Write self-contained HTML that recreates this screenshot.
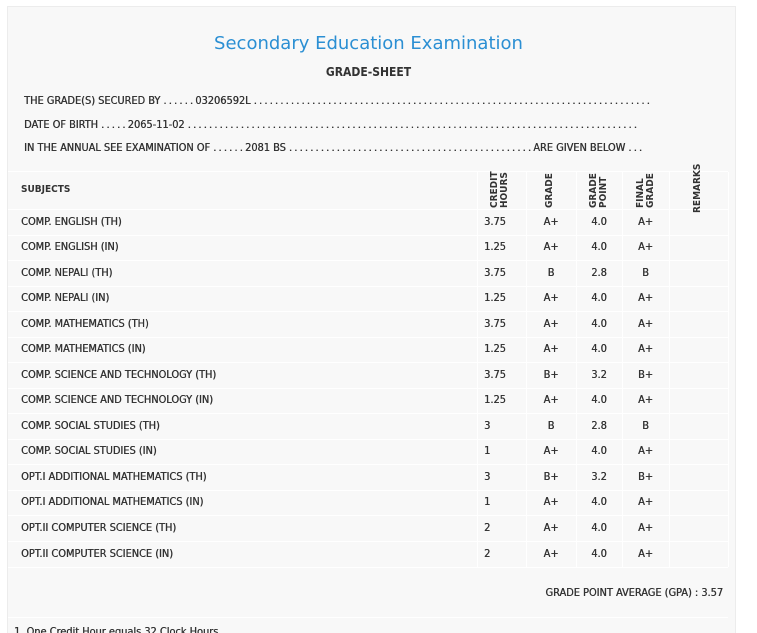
<!DOCTYPE html>
<html><head><style>
html,body{margin:0;width:757px;height:633px;overflow:hidden;}
body{background:#fff;position:relative;font-family:"DejaVu Sans Condensed","Liberation Sans Narrow","Liberation Sans",sans-serif;color:#333;}
.panel{position:absolute;left:7px;top:6px;width:727px;height:640px;background:#f8f8f8;border:1px solid #ececec;}
.t{position:absolute;white-space:nowrap;font-size:10.9px;text-shadow:0.35px 0 0 #333;}
.d{letter-spacing:2.2px;}
.title{position:absolute;left:0;width:737px;text-align:center;top:33px;font-family:"DejaVu Sans","Liberation Sans",sans-serif;font-size:18px;color:#2b8fd3;}
.gs{position:absolute;left:0;width:737px;text-align:center;top:65px;font-size:12px;font-weight:bold;}
.hl{position:absolute;left:8px;width:720px;height:1px;background:#fff;}
.vl{position:absolute;width:1px;background:#fff;top:172px;height:395px;}
.rot{position:absolute;transform:rotate(-90deg);transform-origin:left top;font-size:10px;font-weight:bold;line-height:10px;white-space:nowrap;}
.c{position:absolute;font-size:10.9px;text-align:center;text-shadow:0.35px 0 0 #333;}
</style></head><body>
<div class="panel"></div>
<div class="title">Secondary Education Examination</div>
<div class="gs">GRADE-SHEET</div>
<div class="t" style="left:24px;top:94px">THE GRADE(S) SECURED BY <span class="d">......</span>03206592L <span class="d">...........................................................................</span></div>
<div class="t" style="left:24px;top:118px">DATE OF BIRTH <span class="d">.....</span>2065-11-02 <span class="d">.....................................................................................</span></div>
<div class="t" style="left:24px;top:141px">IN THE ANNUAL SEE EXAMINATION OF <span class="d">......</span>2081 BS <span class="d">..............................................</span>ARE GIVEN BELOW <span class="d">...</span></div>

<div class="hl" style="top:171px"></div>
<div class="hl" style="top:209px"></div>
<div class="vl" style="left:477px"></div>
<div class="vl" style="left:526px"></div>
<div class="vl" style="left:576px"></div>
<div class="vl" style="left:622px"></div>
<div class="vl" style="left:669px"></div>
<div class="vl" style="left:728px"></div>
<div class="t" style="left:21px;top:184px;font-weight:bold;font-size:10px;text-shadow:none">SUBJECTS</div>
<div class="rot" style="left:490px;top:208px">CREDIT<br>HOURS</div>
<div class="rot" style="left:545px;top:208px">GRADE</div>
<div class="rot" style="left:589px;top:208px">GRADE<br>POINT</div>
<div class="rot" style="left:636px;top:208px">FINAL<br>GRADE</div>
<div class="rot" style="left:693px;top:213px">REMARKS</div>

<div id="rows"></div>
<script>
var d=[["COMP. ENGLISH (TH)","3.75","A+","4.0","A+"],["COMP. ENGLISH (IN)","1.25","A+","4.0","A+"],["COMP. NEPALI (TH)","3.75","B","2.8","B"],["COMP. NEPALI (IN)","1.25","A+","4.0","A+"],["COMP. MATHEMATICS (TH)","3.75","A+","4.0","A+"],["COMP. MATHEMATICS (IN)","1.25","A+","4.0","A+"],["COMP. SCIENCE AND TECHNOLOGY (TH)","3.75","B+","3.2","B+"],["COMP. SCIENCE AND TECHNOLOGY (IN)","1.25","A+","4.0","A+"],["COMP. SOCIAL STUDIES (TH)","3","B","2.8","B"],["COMP. SOCIAL STUDIES (IN)","1","A+","4.0","A+"],["OPT.I ADDITIONAL MATHEMATICS (TH)","3","B+","3.2","B+"],["OPT.I ADDITIONAL MATHEMATICS (IN)","1","A+","4.0","A+"],["OPT.II COMPUTER SCIENCE (TH)","2","A+","4.0","A+"],["OPT.II COMPUTER SCIENCE (IN)","2","A+","4.0","A+"]];
var h="";
d.forEach(function(r,i){var y=209+i*25.54;var ty=y+5.5;
h+='<div class="hl" style="top:'+(y+25.5).toFixed(1)+'px"></div>';
h+='<div class="t" style="left:21px;top:'+ty.toFixed(1)+'px">'+r[0]+'</div>';
h+='<div class="t" style="left:484px;top:'+ty.toFixed(1)+'px">'+r[1]+'</div>';
h+='<div class="c" style="left:526px;width:50px;top:'+ty.toFixed(1)+'px">'+r[2]+'</div>';
h+='<div class="c" style="left:576px;width:46px;top:'+ty.toFixed(1)+'px">'+r[3]+'</div>';
h+='<div class="c" style="left:622px;width:47px;top:'+ty.toFixed(1)+'px">'+r[4]+'</div>';});
document.getElementById("rows").innerHTML=h;
</script>
<div class="t" style="right:34px;top:586px">GRADE POINT AVERAGE (GPA) : 3.57</div>
<div class="hl" style="top:617px"></div>
<div class="t" style="left:14px;top:625px">1. One Credit Hour equals 32 Clock Hours</div>
</body></html>
